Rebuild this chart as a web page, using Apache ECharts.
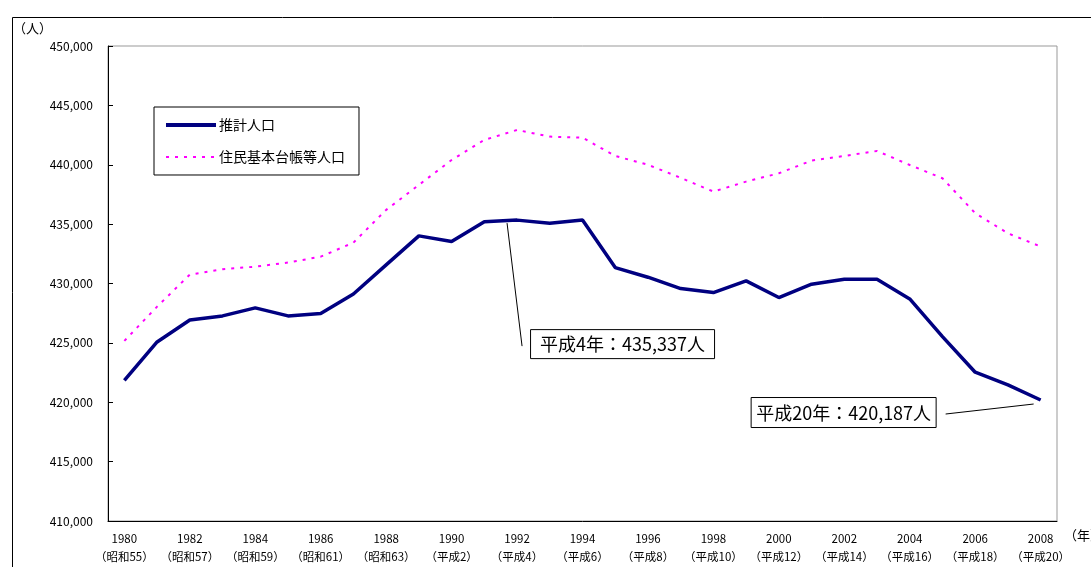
<!DOCTYPE html>
<html><head><meta charset="utf-8">
<script src="https://cdn.jsdelivr.net/npm/echarts@6/dist/echarts.min.js"></script>
<style>html,body{margin:0;padding:0;background:#fff}#c{width:1091px;height:567px}</style>
</head><body><div id="c"></div>
<script>
const years = ['1980','1981','1982','1983','1984','1985','1986','1987','1988','1989','1990','1991','1992','1993','1994','1995','1996','1997','1998','1999','2000','2001','2002','2003','2004','2005','2006','2007','2008'];
const eras = ['（昭和55）','（昭和56）','（昭和57）','（昭和58）','（昭和59）','（昭和60）','（昭和61）','（昭和62）','（昭和63）','（平成1）','（平成2）','（平成3）','（平成4）','（平成5）','（平成6）','（平成7）','（平成8）','（平成9）','（平成10）','（平成11）','（平成12）','（平成13）','（平成14）','（平成15）','（平成16）','（平成17）','（平成18）','（平成19）','（平成20）'];
const estimated = [421850,425080,426930,427270,427950,427270,427470,429120,431570,434010,433530,435210,435337,435080,435350,431340,430530,429570,429240,430220,428820,429940,430360,430360,428700,425530,422530,421460,420187];
const registered = [425170,428050,430750,431200,431420,431760,432260,433440,436200,438300,440400,442090,442930,442370,442280,440740,440000,438900,437740,438580,439280,440350,440740,441160,439980,438860,435920,434230,433110];
const seriesNames = ['推計人口','住民基本台帳等人口'];
const yMin = 410000, yMax = 450000, yStep = 5000;
const annotations = [
  {index: 12, text: '平成4年：435,337人'},
  {index: 28, text: '平成20年：420,187人'}
];

const chart = echarts.init(document.getElementById('c'));
const font = "'Noto Sans CJK JP', 'Noto Sans', sans-serif";
chart.setOption({
  animation: false,
  backgroundColor: '#fff',
  textStyle: {fontFamily: font, color: '#000'},
  grid: {left: 108, right: 34, top: 46, bottom: 46, show: true, borderColor: '#999', borderWidth: 1, backgroundColor: 'transparent'},
  legend: {
    orient: 'vertical', left: 154, top: 107,
    padding: [11, 14, 11, 10],
    itemWidth: 50, itemHeight: 14, itemGap: 18,
    borderColor: '#000', borderWidth: 1,
    itemStyle: {opacity: 0},
    textStyle: {fontFamily: font, fontSize: 14, color: '#000', padding: [0,0,0,-2]},
    data: [
      {name: seriesNames[0], lineStyle: {width: 4, color: '#000080'}},
      {name: seriesNames[1], lineStyle: {width: 2, color: '#ff00ff', type: [3, 6]}}
    ]
  },
  xAxis: {
    type: 'category', data: years, boundaryGap: true,
    axisLine: {lineStyle: {color: '#000', width: 1}},
    axisTick: {inside: true, length: 5, interval: 0, lineStyle: {color: '#000'}},
    axisLabel: {
      interval: 1, margin: 9, color: '#000', fontFamily: font, fontSize: 11.5, lineHeight: 18,
      formatter: (v, i) => v + '\n' + eras[i]
    },
    splitLine: {show: false}
  },
  yAxis: {
    type: 'value', min: yMin, max: yMax, interval: yStep,
    axisLine: {show: true, lineStyle: {color: '#000', width: 1}},
    axisTick: {show: true, inside: true, length: 5, lineStyle: {color: '#000'}},
    axisLabel: {margin: 15, color: '#000', fontFamily: font, fontSize: 12,
      formatter: v => v.toLocaleString('en-US')},
    splitLine: {show: false}
  },
  series: [
    {name: seriesNames[0], type: 'line', data: estimated, symbol: 'none',
     lineStyle: {color: '#000080', width: 3.5}, itemStyle: {color: '#000080'}, z: 3},
    {name: seriesNames[1], type: 'line', data: registered, symbol: 'none',
     lineStyle: {color: '#ff00ff', width: 2, type: [3, 6]}, itemStyle: {color: '#ff00ff'}, z: 2}
  ]
});

const p1 = chart.convertToPixel({seriesIndex: 0}, [annotations[0].index, estimated[annotations[0].index]]);
const p2 = chart.convertToPixel({seriesIndex: 0}, [annotations[1].index, estimated[annotations[1].index]]);
const boxStyle = {fill: '#fff', stroke: '#000', lineWidth: 1};
const txt = {fontFamily: font, fontSize: 18, fill: '#000'};
chart.setOption({
  graphic: [
    {type: 'rect', left: 10, top: 15, shape: {x: 0.5, y: 0.5, width: 1100, height: 600}, style: {fill: 'none', stroke: '#000', lineWidth: 1}, silent: true, z: -1},
    {type: 'text', left: 13, top: 22, style: {text: '（人）', fontFamily: font, fontSize: 13, fill: '#000'}},
    {type: 'text', left: 1064, top: 529, style: {text: '（年）', fontFamily: font, fontSize: 13, fill: '#000'}},
    {type: 'line', shape: {x1: p1[0] - 10, y1: p1[1] + 3, x2: p1[0] + 5, y2: p1[1] + 126}, style: {stroke: '#000', lineWidth: 1}, z: 10},
    {type: 'group', x: p1[0] + 13, y: p1[1] + 109, z: 10, children: [
      {type: 'rect', shape: {x: 0.5, y: 0.5, width: 184, height: 29}, style: boxStyle},
      {type: 'text', x: 92.5, y: 15, style: Object.assign({text: annotations[0].text, align: 'center', verticalAlign: 'middle'}, txt)}
    ]},
    {type: 'line', shape: {x1: p2[0] - 95, y1: p2[1] + 14, x2: p2[0] - 7, y2: p2[1] + 4}, style: {stroke: '#000', lineWidth: 1}, z: 10},
    {type: 'group', x: p2[0] - 290, y: p2[1] - 3, z: 10, children: [
      {type: 'rect', shape: {x: 0.5, y: 0.5, width: 185, height: 30}, style: boxStyle},
      {type: 'text', x: 93, y: 16, style: Object.assign({text: annotations[1].text, align: 'center', verticalAlign: 'middle'}, txt)}
    ]}
  ]
});
</script></body></html>
